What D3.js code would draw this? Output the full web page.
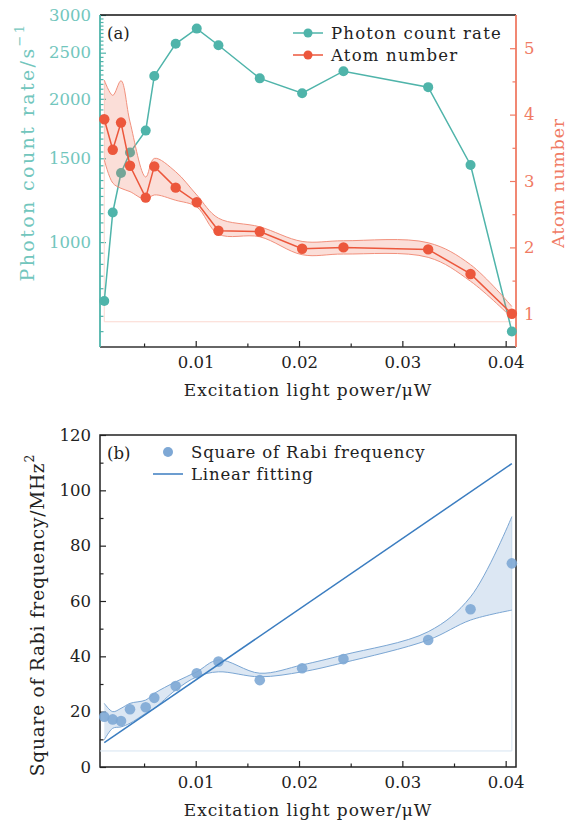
<!DOCTYPE html>
<html>
<head>
<meta charset="utf-8">
<script src="https://cdn.jsdelivr.net/npm/d3@7"></script>
<style>
  body { margin: 0; background: #fff; }
  svg text { font-family: "DejaVu Serif", serif; }
</style>
</head>
<body>
<script>
// values
var power = [0.00115, 0.00197, 0.00277, 0.00364, 0.00516, 0.00599, 0.00806, 0.0101, 0.0122, 0.0162, 0.0203, 0.0243, 0.0325, 0.0366, 0.0406];
var photonRate = [752, 1154, 1397, 1542, 1715, 2234, 2610, 2809, 2592, 2208, 2055, 2286, 2116, 1452, 649];
var atomNumber = [3.93, 3.47, 3.88, 3.23, 2.75, 3.22, 2.90, 2.68, 2.25, 2.24, 1.98, 2.00, 1.97, 1.60, 1.00];
var atomUpper = [4.52, 4.29, 4.51, 3.89, 3.06, 3.34, 3.14, 2.79, 2.44, 2.31, 2.09, 2.10, 2.07, 1.74, 1.11];
var atomLower = [3.32, 2.97, 2.89, 2.84, 2.72, 2.79, 2.71, 2.61, 2.20, 2.16, 1.89, 1.90, 1.85, 1.49, 0.94];
var rabiSq = [18.2, 17.2, 16.6, 20.9, 21.6, 25.0, 29.3, 33.9, 38.1, 31.4, 35.7, 39.0, 45.9, 57.0, 73.6];
var rabiUpper = [23.0, 20.0, 21.2, 23.0, 24.2, 26.6, 30.8, 34.4, 38.7, 33.9, 36.9, 40.5, 48.9, 61.5, 90.5];
var rabiLower = [9.8, 14.0, 14.5, 15.8, 19.4, 21.2, 27.8, 32.6, 34.4, 32.6, 34.4, 37.7, 45.9, 53.1, 56.7];
var fitCoef = [5.86, 2557]; // intercept, slope

var xTicks = [0.01, 0.02, 0.03, 0.04];
var xMinor = [0.005, 0.015, 0.025, 0.035];
var rateTicks = [1000, 1500, 2000, 2500, 3000];
var atomTicks = [1, 2, 3, 4, 5];
var rabiTicks = [0, 20, 40, 60, 80, 100, 120];

var teal = "#4fb4aa", tealText = "#72c6bd";
var red = "#ec573c", redAxis = "#f07b64";
var blue = "#3b7dc0", blueDot = "#7ea8d5";
var fs = 16.5;

var W = 572, H = 821;
var svg = d3.select("body").append("svg").attr("width", W).attr("height", H);

var left = 100, right = 516;
var x = d3.scaleLinear().domain([0.000736, 0.0410]).range([left, right]);

function label(g, txt, px, py, color, rot, size, spacing) {
    var t = g.append("text")
        .attr("transform", "translate(" + px + "," + py + ")" + (rot ? " rotate(-90)" : ""))
        .attr("text-anchor", "middle")
        .attr("dominant-baseline", "central")
        .style("font-size", size + "px")
        .style("letter-spacing", spacing + "px")
        .attr("fill", color);
    return t.text(txt);
}

function styleAxis(g, color) {
    g.select(".domain").remove();
    g.selectAll("line").attr("stroke", color).attr("stroke-width", 1.2);
    g.selectAll("text").attr("fill", color).style("font-size", fs + "px").style("font-family", "DejaVu Serif");
}

function xAxis(g, y0) {
    g.append("g").attr("transform", "translate(0," + y0 + ")")
        .call(d3.axisBottom(x).tickValues(xTicks).tickSizeInner(-6).tickSizeOuter(0).tickPadding(9).tickFormat(d3.format(".2f")))
        .call(styleAxis, "#222");
    g.append("g").attr("transform", "translate(0," + y0 + ")")
        .call(d3.axisBottom(x).tickValues(xMinor).tickSizeInner(-3.5).tickSizeOuter(0).tickFormat(""))
        .call(styleAxis, "#222");
}

// ---------- panel (a) ----------
var aTop = 15, aBot = 347;
var yRate = d3.scaleLog().domain([602, 3000]).range([aBot, aTop]);
var yAtom = d3.scaleLinear().domain([0.5, 5.5]).range([aBot, aTop]);
var pa = svg.append("g");

xAxis(pa, aBot);

var rateMinor = d3.range(650, 3001, 50).filter(function(v) { return rateTicks.indexOf(v) < 0; });
pa.append("g").attr("transform", "translate(" + left + ",0)")
    .call(d3.axisLeft(yRate).tickValues(rateTicks).tickSizeInner(-6).tickSizeOuter(0).tickPadding(9).tickFormat(d3.format("d")))
    .call(styleAxis, teal)
    .selectAll("text").attr("fill", tealText);
pa.append("g").attr("transform", "translate(" + left + ",0)")
    .call(d3.axisLeft(yRate).tickValues(rateMinor).tickSizeInner(-3.5).tickSizeOuter(0).tickFormat(""))
    .call(styleAxis, teal);

pa.append("g").attr("transform", "translate(" + right + ",0)")
    .call(d3.axisRight(yAtom).tickValues(atomTicks).tickSizeInner(-6).tickSizeOuter(0).tickPadding(8).tickFormat(d3.format("d")))
    .call(styleAxis, redAxis);
pa.append("g").attr("transform", "translate(" + right + ",0)")
    .call(d3.axisRight(yAtom).tickValues([1.5, 2.5, 3.5, 4.5]).tickSizeInner(-3.5).tickSizeOuter(0).tickFormat(""))
    .call(styleAxis, redAxis);

// frame
pa.append("line").attr("x1", left).attr("x2", right).attr("y1", aTop).attr("y2", aTop).attr("stroke", "#111").attr("stroke-width", 1.5);
pa.append("line").attr("x1", left).attr("x2", right).attr("y1", aBot).attr("y2", aBot).attr("stroke", "#333").attr("stroke-width", 1.5);
pa.append("line").attr("x1", left).attr("x2", left).attr("y1", aTop).attr("y2", aBot).attr("stroke", teal).attr("stroke-width", 1.8);
pa.append("line").attr("x1", right).attr("x2", right).attr("y1", aTop).attr("y2", aBot).attr("stroke", redAxis).attr("stroke-width", 1.8);

// faint edge lines of the band region
var n = power.length;
pa.append("path")
    .attr("d", "M" + x(power[0]) + "," + yAtom(atomUpper[0]) + "V" + yAtom(0.88) + "H" + x(power[n - 1]))
    .attr("fill", "none").attr("stroke", "#fbd8d0").attr("stroke-width", 1);

// photon count rate
var rateLine = d3.line().x(function(d, i) { return x(power[i]); }).y(function(d) { return yRate(d); });
pa.append("path").datum(photonRate).attr("d", rateLine).attr("fill", "none").attr("stroke", teal).attr("stroke-width", 1.5);
pa.selectAll(".rate").data(photonRate).enter().append("circle")
    .attr("cx", function(d, i) { return x(power[i]); })
    .attr("cy", function(d) { return yRate(d); })
    .attr("r", 5).attr("fill", teal);

// atom number band
var atomBand = d3.area().curve(d3.curveCatmullRom.alpha(0.5))
    .x(function(d, i) { return x(power[i]); })
    .y0(function(d, i) { return yAtom(atomLower[i]); })
    .y1(function(d, i) { return yAtom(atomUpper[i]); });
pa.append("path").datum(power).attr("d", atomBand).attr("fill", "rgba(240,115,90,0.24)").attr("stroke", "none");
var edge = function(arr, ys) {
    return d3.line().curve(d3.curveCatmullRom.alpha(0.5)).x(function(d, i) { return x(power[i]); }).y(function(d) { return ys(d); })(arr);
};
pa.append("path").attr("d", edge(atomUpper, yAtom)).attr("fill", "none").attr("stroke", "#f2907c").attr("stroke-width", 1);
pa.append("path").attr("d", edge(atomLower, yAtom)).attr("fill", "none").attr("stroke", "#f2907c").attr("stroke-width", 1);

pa.append("path").attr("d", d3.line().x(function(d, i) { return x(power[i]); }).y(function(d) { return yAtom(d); })(atomNumber))
    .attr("fill", "none").attr("stroke", red).attr("stroke-width", 1.5);
pa.selectAll(".atom").data(atomNumber).enter().append("circle")
    .attr("cx", function(d, i) { return x(power[i]); })
    .attr("cy", function(d) { return yAtom(d); })
    .attr("r", 5.2).attr("fill", red);

// legend (a)
var lg = pa.append("g");
[["Photon count rate", teal, 33], ["Atom number", red, 55]].forEach(function(e) {
    lg.append("line").attr("x1", 293).attr("x2", 323).attr("y1", e[2]).attr("y2", e[2]).attr("stroke", e[1]).attr("stroke-width", 1.5);
    lg.append("circle").attr("cx", 308).attr("cy", e[2]).attr("r", 4.5).attr("fill", e[1]);
    lg.append("text").attr("x", 331).attr("y", e[2]).attr("dominant-baseline", "central")
        .style("font-size", fs + "px").style("letter-spacing", "1.2px").attr("fill", "#222").text(e[0]);
});
pa.append("text").attr("x", 107).attr("y", 33).attr("dominant-baseline", "central")
    .style("font-size", fs + "px").attr("fill", "#222").text("(a)");

label(pa, "Excitation light power/μW", 308, 390, "#222", false, 17, 0.9);
var la = label(pa, "Photon count rate/s", 27, 152, tealText, true, 19, 2.4);
la.append("tspan").attr("baseline-shift", "super").style("font-size", "13px").text("−1");
label(pa, "Atom number", 558, 183, redAxis, true, 17.5, 0.8);

// ---------- panel (b) ----------
var bTop = 435, bBot = 767;
var yRabi = d3.scaleLinear().domain([0, 120]).range([bBot, bTop]);
var pb = svg.append("g");

xAxis(pb, bBot);
pb.append("g").attr("transform", "translate(" + left + ",0)")
    .call(d3.axisLeft(yRabi).tickValues(rabiTicks).tickSizeInner(-6).tickSizeOuter(0).tickPadding(9).tickFormat(d3.format("d")))
    .call(styleAxis, "#222");
pb.append("g").attr("transform", "translate(" + left + ",0)")
    .call(d3.axisLeft(yRabi).tickValues(d3.range(10, 120, 20)).tickSizeInner(-3.5).tickSizeOuter(0).tickFormat(""))
    .call(styleAxis, "#222");

pb.append("rect").attr("x", left).attr("y", bTop).attr("width", right - left).attr("height", bBot - bTop)
    .attr("fill", "none").attr("stroke", "#222").attr("stroke-width", 1.5);

pb.append("path")
    .attr("d", "M" + left + "," + yRabi(5.8) + "H" + x(power[n - 1]) + "V" + yRabi(rabiUpper[n - 1]))
    .attr("fill", "none").attr("stroke", "#d6e4f1").attr("stroke-width", 1);

var rabiBand = d3.area().curve(d3.curveCatmullRom.alpha(0.5))
    .x(function(d, i) { return x(power[i]); })
    .y0(function(d, i) { return yRabi(rabiLower[i]); })
    .y1(function(d, i) { return yRabi(rabiUpper[i]); });
pb.append("path").datum(power).attr("d", rabiBand).attr("fill", "rgba(125,165,210,0.27)").attr("stroke", "none");
pb.append("path").attr("d", edge(rabiUpper, yRabi)).attr("fill", "none").attr("stroke", "#7ba6d3").attr("stroke-width", 1);
pb.append("path").attr("d", edge(rabiLower, yRabi)).attr("fill", "none").attr("stroke", "#7ba6d3").attr("stroke-width", 1);

pb.selectAll(".rabi").data(rabiSq).enter().append("circle")
    .attr("cx", function(d, i) { return x(power[i]); })
    .attr("cy", function(d) { return yRabi(d); })
    .attr("r", 5.3).attr("fill", blueDot).attr("fill-opacity", 0.9);

var fx = [power[0], power[n - 1]];
pb.append("line")
    .attr("x1", x(fx[0])).attr("y1", yRabi(fitCoef[0] + fitCoef[1] * fx[0]))
    .attr("x2", x(fx[1])).attr("y2", yRabi(fitCoef[0] + fitCoef[1] * fx[1]))
    .attr("stroke", blue).attr("stroke-width", 1.5);

// legend (b)
pb.append("circle").attr("cx", 168).attr("cy", 452).attr("r", 5).attr("fill", blueDot);
pb.append("line").attr("x1", 153).attr("x2", 183).attr("y1", 474).attr("y2", 474).attr("stroke", blue).attr("stroke-width", 1.5);
[["Square of Rabi frequency", 452], ["Linear fitting", 474]].forEach(function(e) {
    pb.append("text").attr("x", 191).attr("y", e[1]).attr("dominant-baseline", "central")
        .style("font-size", fs + "px").style("letter-spacing", "0.85px").attr("fill", "#222").text(e[0]);
});
pb.append("text").attr("x", 107).attr("y", 453).attr("dominant-baseline", "central")
    .style("font-size", fs + "px").attr("fill", "#222").text("(b)");

label(pb, "Excitation light power/μW", 308, 810, "#222", false, 17, 0.9);
var lb = label(pb, "Square of Rabi frequency/MHz", 37, 615, "#222", true, 18.5, 0.8);
lb.append("tspan").attr("baseline-shift", "super").style("font-size", "12.5px").text("2");
</script>
</body>
</html>
